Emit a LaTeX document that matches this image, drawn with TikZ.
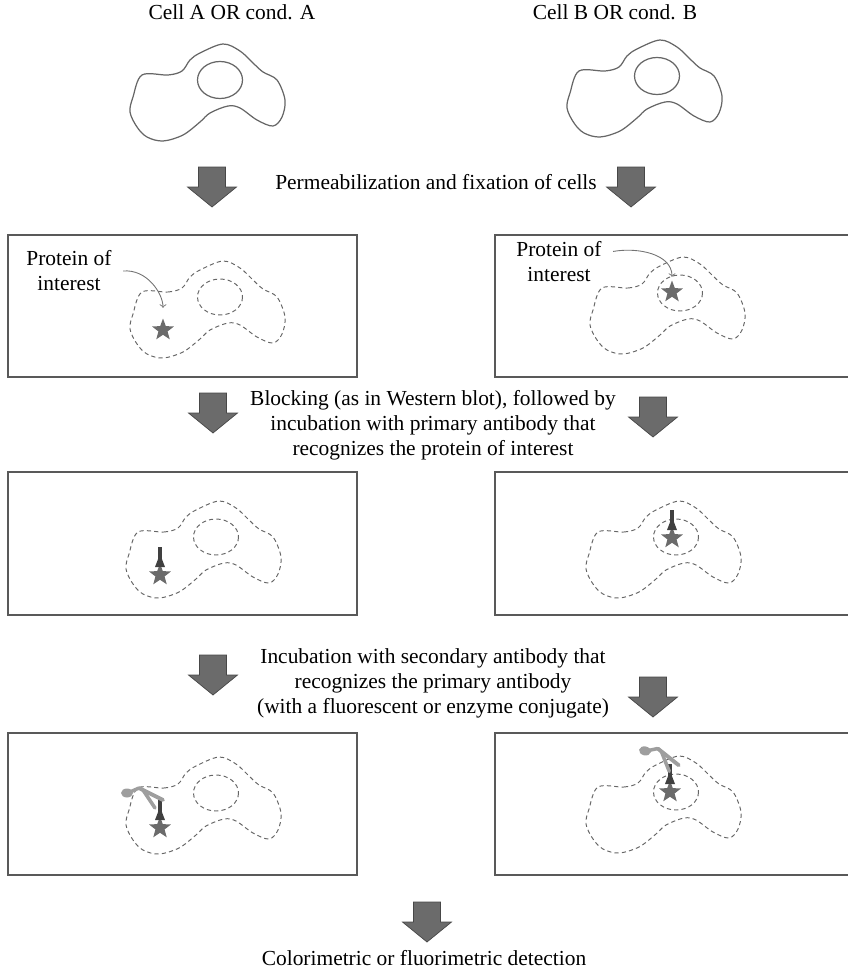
\documentclass[tikz,border=0pt]{standalone}
\usepackage{amsmath}
\usepackage{fontspec}
\setmainfont{Liberation Serif}
\usetikzlibrary{calc, shapes.geometric}

\tikzset{
    membrane/.style={draw=black!60, line width=0.7pt},
    fixed/.style={draw=black!60, line width=0.55pt, dash pattern=on 2.4pt off 1.8pt},
    panel/.style={draw=black!65, line width=0.9pt},
    antigen/.style={star, star points=5, star point ratio=2.4, fill=black!58, inner sep=0pt, minimum size=0.46cm},
    label/.style={align=center, font=\fontsize{12.2}{14.2}\selectfont},
    pointer/.style={->, draw=black!55, line width=0.5pt},
    % big grey arrow between the steps
    stepdown/.pic={
        \filldraw[fill=black!58, draw=black!72, line width=0.4pt]
            (-13.5,0) -- (13.5,0) -- (13.5,20) -- (24.5,20) -- (0,40)
            -- (-24.5,20) -- (-13.5,20) -- cycle;
    },
    % primary antibody sitting on the antigen
    primary/.pic={
        \fill[black!75] (-1.8,-28) rectangle (1.8,-16);
        \fill[black!75] (0,-21) -- (-5,-8) -- (5,-8) -- cycle;
    },
    % labelled secondary antibody
    secondary/.pic={
        \draw[black!38, line width=2.2pt, line cap=round] (-21,-40) -- (3,-28);
        \draw[black!38, line width=2pt, line cap=round] (-17,-38) -- (-5,-20);
        \draw[black!38, line width=2pt] (-30,-36) -- (-21,-40);
        \fill[black!38] (-33,-35) ellipse (6 and 4.5);
    },
}

% cell outline, around the nucleus centre
\newcommand{\cellpath}{plot[smooth cycle, tension=0.55] coordinates {
    (-78,-5) (-52,-5) (-38,-9) (-30,-20) (-20,-27) (3,-36) (20,-29)
    (33,-17) (43,-8) (57,0) (65,20) (62,37) (53,46) (37,40) (20,28)
    (8,26) (-10,33) (-20,42) (-37,55) (-57,61) (-73,57) (-83,47)
    (-90,32) (-87,17)}}

\begin{document}
\begin{tikzpicture}[x=0.02cm, y=-0.02cm]
    \useasboundingbox (0,0) rectangle (848,970);

    % Starting cells
    \node[label] (titleA) at (232,12) {Cell A OR cond. A};
    \node[label] (titleB) at (615,12) {Cell B OR cond. B};
    \draw[membrane, shift={(220,80)}] \cellpath;
    \draw[membrane] (220,80) ellipse (22.5 and 18.5);
    \draw[membrane, shift={(657,76)}] \cellpath;
    \draw[membrane] (657,76) ellipse (22.5 and 18.5);

    % Step 1
    \pic at (212,167) {stepdown};
    \pic at (631,167) {stepdown};
    \node[label] (permtxt) at (436,182) {Permeabilization and fixation of cells};

    % Panels
    \foreach \ya/\yb in {235/377, 472/615, 733/875} {
        \draw[panel] (8,\ya) rectangle (357,\yb);
        \draw[panel] (495,\ya) rectangle (860,\yb);
    }

    % Fixed cells
    \foreach \nx/\ny in {220/297, 680/293, 216/537, 676/537, 216/793, 676/792} {
        \draw[fixed, shift={(\nx,\ny)}] \cellpath;
        \draw[fixed] (\nx,\ny) ellipse (22.5 and 18);
    }

    \node[antigen] (starA1) at (163,330) {};
    \node[antigen] (starB1) at (672,292) {};
    \node[label] (poiA) at (69,271) {Protein of\\interest};
    \node[label] (poiB) at (559,262) {Protein of\\interest};
    \draw[pointer, shorten >=5.5pt] ([xshift=3pt]poiA.east) to[out=5, in=90] (starA1);
    \draw[pointer, shorten >=1.5pt] ([xshift=3pt, yshift=6pt]poiB.east) to[out=10, in=90] (starB1);

    % Step 2
    \pic at (213,393) {stepdown};
    \pic at (653,397) {stepdown};
    \node[label] (blocktxt) at (433,425) {Blocking (as in Western blot), followed by\\
        incubation with primary antibody that\\recognizes the protein of interest};

    \node[antigen] (starA2) at (160,575) {};
    \node[antigen] (starB2) at (672,538) {};
    \pic at (starA2) {primary};
    \pic at (starB2) {primary};

    % Step 3
    \pic at (213,655) {stepdown};
    \pic at (653,677) {stepdown};
    \node[label] (incubtxt) at (433,683) {Incubation with secondary antibody that\\
        recognizes the primary antibody\\(with a fluorescent or enzyme conjugate)};

    \node[antigen] (starA3) at (160,828) {};
    \node[antigen] (starB3) at (670,792) {};
    \pic at (starA3) {primary};
    \pic at (starB3) {primary};
    \pic at (starA3) {secondary};
    \pic[rotate=-12] at (starB3) {secondary};

    % Read-out
    \pic at (427,902) {stepdown};
    \node[label] (detecttxt) at (424,958) {Colorimetric or fluorimetric detection};
\end{tikzpicture}
\end{document}
